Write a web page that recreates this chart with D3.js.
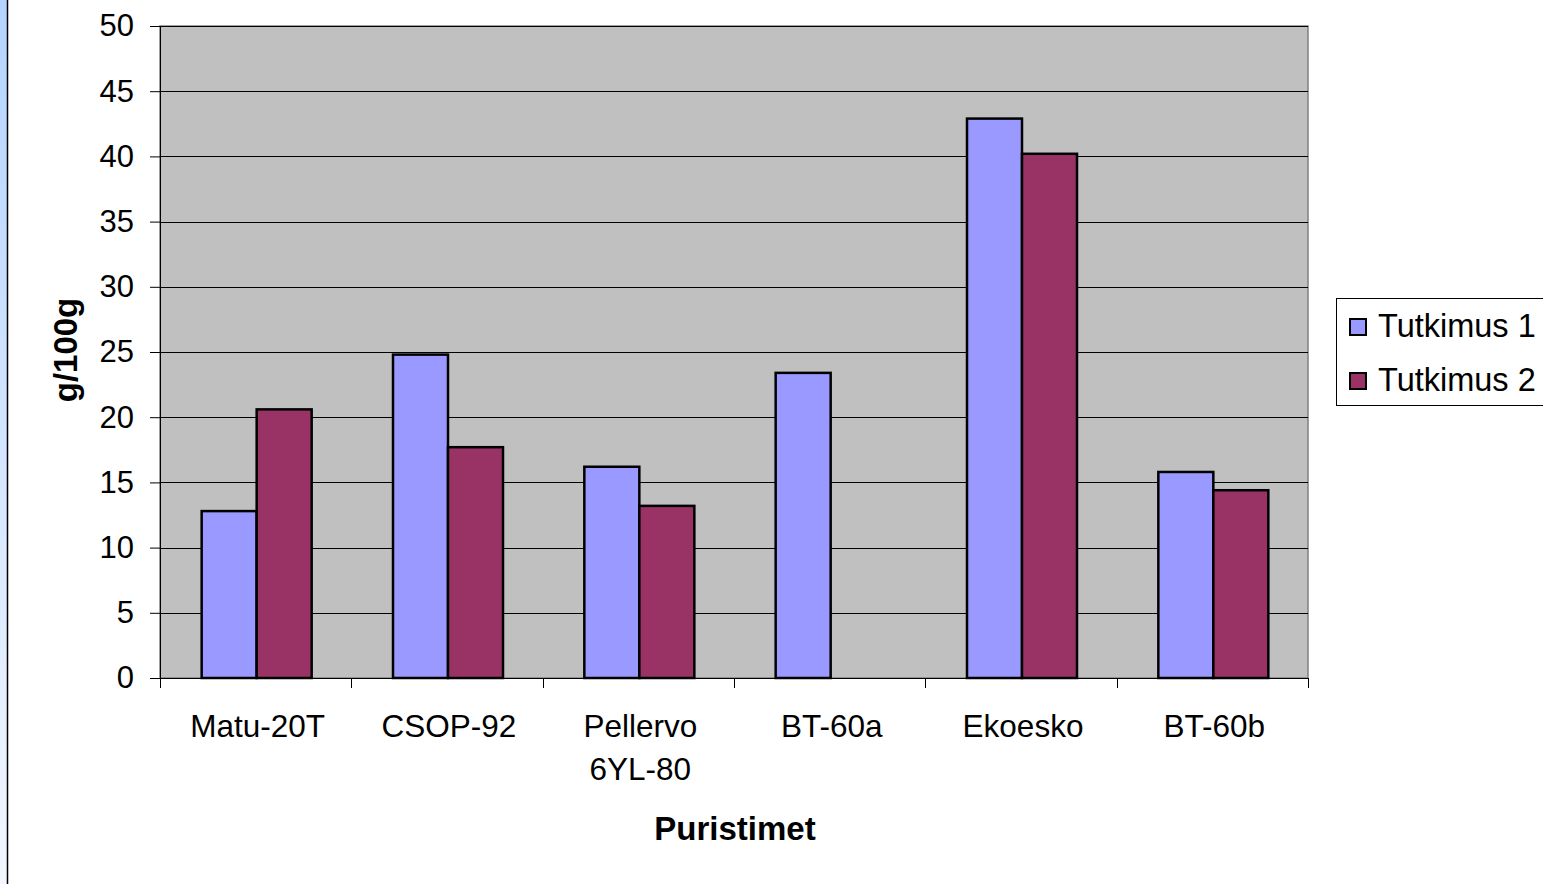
<!DOCTYPE html>
<html><head><meta charset="utf-8">
<script src="https://cdn.jsdelivr.net/npm/d3@7"></script>
<style>body{margin:0;background:#fff;}svg{display:block;font-family:"Liberation Sans",Arial,sans-serif;}</style>
</head><body><svg id="c" width="1543" height="884"></svg>
<script>
const categories = ["Matu-20T","CSOP-92","Pellervo\n6YL-80","BT-60a","Ekoesko","BT-60b"];
const seriesNames = ["Tutkimus 1","Tutkimus 2"];
const tutkimus1 = [12.8, 24.8, 16.2, 23.4, 42.9, 15.8];
const tutkimus2 = [20.6, 17.7, 13.2, null, 40.2, 14.4];
const yTicks = [0,5,10,15,20,25,30,35,40,45,50];
const colors = ["#9999ff","#993366"];

const svg = d3.select("#c");
const defs = svg.append("defs");
const g = defs.append("linearGradient").attr("id","strip").attr("x1",0).attr("y1",0).attr("x2",0).attr("y2",1);
g.append("stop").attr("offset","0").attr("stop-color","#b4d4ff");
g.append("stop").attr("offset","1").attr("stop-color","#f2f7ff");
svg.append("rect").attr("x",0).attr("y",0).attr("width",7).attr("height",884).attr("fill","url(#strip)");
svg.append("line").attr("x1",7.5).attr("x2",7.5).attr("y1",0).attr("y2",884).attr("stroke","#000").attr("stroke-width",1.5);

const L=160,R=1308,T=26,B=678;
const x = d3.scaleBand().domain(categories).range([L,R]);
const y = d3.scaleLinear().domain([0,50]).range([B,T]);
const barW = 55;
const x1 = d3.scaleBand().domain(seriesNames).range([0,barW*2]);

svg.append("rect").attr("x",L).attr("y",T).attr("width",R-L).attr("height",B-T).attr("fill","#c0c0c0").attr("stroke","#808080").attr("stroke-width",1.5);

svg.append("g").selectAll("line").data(yTicks.filter(d=>d>0)).join("line")
  .attr("x1",L).attr("x2",R).attr("y1",d=>Math.round(y(d))+0.5).attr("y2",d=>Math.round(y(d))+0.5)
  .attr("stroke","#000").attr("stroke-width",1);

const yAxis = svg.append("g").attr("transform",`translate(${L},0)`)
  .call(d3.axisLeft(y).tickValues(yTicks).tickSize(10).tickPadding(16));
yAxis.attr("font-size",31).attr("font-family","Liberation Sans, Arial, sans-serif");
yAxis.select(".domain").attr("stroke","#000");
yAxis.selectAll("text").attr("fill","#000");
yAxis.selectAll(".tick line").attr("stroke","#000");

// x axis
const xa = svg.append("g");
xa.append("line").attr("x1",L).attr("x2",R).attr("y1",B+0.5).attr("y2",B+0.5).attr("stroke","#000");
const bounds = categories.map(c=>x(c)).concat([R]);
xa.selectAll("line.t").data(bounds).join("line").attr("class","t")
  .attr("x1",d=>Math.round(d)+0.5).attr("x2",d=>Math.round(d)+0.5).attr("y1",B).attr("y2",B+10).attr("stroke","#000");
categories.forEach(c=>{
  const lines = c.split("\n");
  const t = xa.append("text").attr("text-anchor","middle").attr("font-size",31.5).attr("fill","#000")
    .attr("x",x(c)+x.bandwidth()/2).attr("y",737);
  lines.forEach((ln,i)=>t.append("tspan").attr("x",x(c)+x.bandwidth()/2+2).attr("dy",i?43:0).text(ln));
});

// bars
const data = categories.map((c,i)=>({c, vals:[tutkimus1[i],tutkimus2[i]]}));
const grp = svg.append("g").selectAll("g").data(data).join("g")
  .attr("transform",d=>`translate(${x(d.c)+x.bandwidth()/2-barW+1},0)`);
grp.selectAll("rect").data(d=>d.vals.map((v,i)=>({v,s:seriesNames[i],i})).filter(o=>o.v!=null)).join("rect")
  .attr("x",d=>x1(d.s)).attr("width",x1.bandwidth())
  .attr("y",d=>y(d.v)).attr("height",d=>y(0)-y(d.v))
  .attr("fill",d=>colors[d.i]).attr("stroke","#000").attr("stroke-width",2.5);

// titles
svg.append("text").attr("x",735).attr("y",840).attr("text-anchor","middle").attr("font-size",33).attr("font-weight","bold").text("Puristimet");
svg.append("text").attr("transform","translate(77,350) rotate(-90)").attr("text-anchor","middle").attr("font-size",33).attr("font-weight","bold").text("g/100g");

// legend
svg.append("rect").attr("x",1336.5).attr("y",298.5).attr("width",215).attr("height",107).attr("fill","#fff").attr("stroke","#000").attr("stroke-width",1);
seriesNames.forEach((s,i)=>{
  const yy = 326 + i*54;
  svg.append("rect").attr("x",1350).attr("y",yy-7).attr("width",16).attr("height",16).attr("fill",colors[i]).attr("stroke","#000").attr("stroke-width",2);
  svg.append("text").attr("x",1378).attr("y",yy+11).attr("font-size",32.5).attr("fill","#000").text(s);
});
</script></body></html>
